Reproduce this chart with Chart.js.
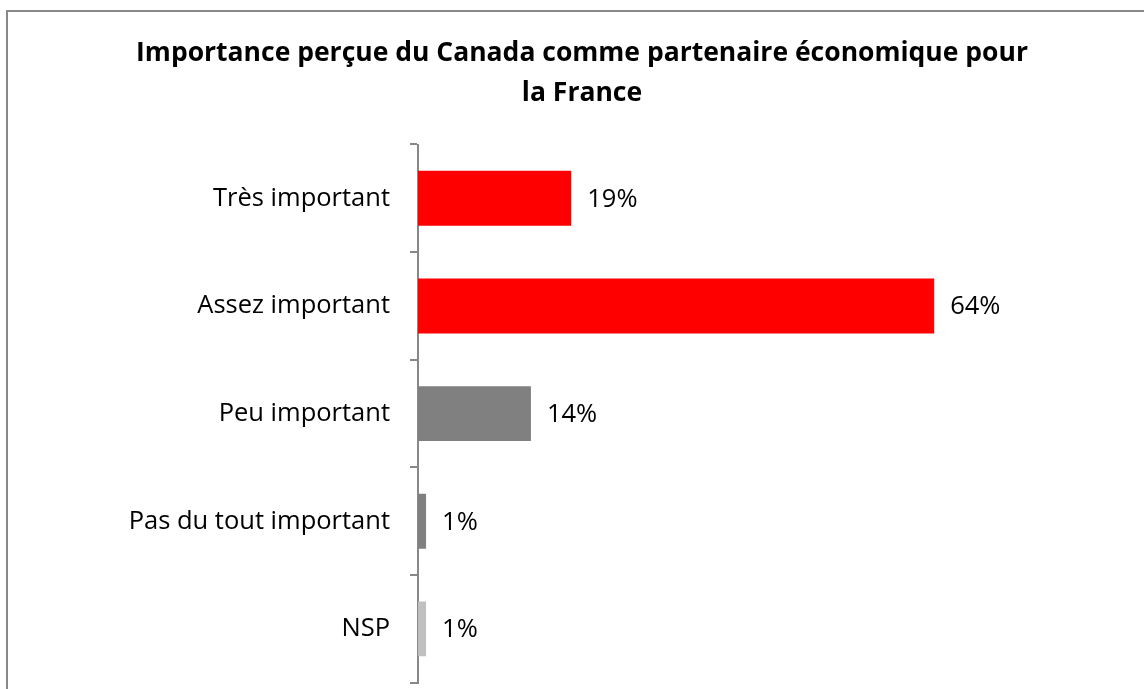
<!DOCTYPE html>
<html>
<head>
<meta charset="utf-8">
<script src="https://cdn.jsdelivr.net/npm/chart.js@4.4.0/dist/chart.umd.min.js"></script>
<style>
    html, body { margin: 0; padding: 0; background: #fff; overflow: hidden; }
    #frame {
        position: absolute;
        left: 6px;
        top: 10px;
        width: 1152px;
        height: 710px;
        border: 2px solid #888;
        box-sizing: border-box;
    }
</style>
</head>
<body>
<div id="frame"><canvas id="importanceChart"></canvas></div>
<script>
// Data
const categories = ['Très important', 'Assez important', 'Peu important', 'Pas du tout important', 'NSP'];
const values = [19, 64, 14, 1, 1];
const barColors = ['#FF0000', '#FF0000', '#808080', '#808080', '#C0C0C0'];
const titleLines = ['Importance perçue du Canada comme partenaire économique pour', 'la France'];

const FONT = "'Open Sans', 'Liberation Sans', sans-serif";

// Draw "xx%" right after each bar
const valueLabels = {
    id: 'valueLabels',
    afterDatasetsDraw(chart) {
        const ctx = chart.ctx;
        const meta = chart.getDatasetMeta(0);
        ctx.save();
        ctx.font = '25.5px ' + FONT;
        ctx.fillStyle = '#000';
        ctx.textAlign = 'left';
        ctx.textBaseline = 'middle';
        meta.data.forEach((bar, i) => {
            ctx.fillText(values[i] + '%', bar.x + 16, bar.y + 1);
        });
        ctx.restore();
    }
};

function initImportanceChart() {
    const ctx = document.getElementById('importanceChart').getContext('2d');
    new Chart(ctx, {
        type: 'bar',
        data: {
            labels: categories,
            datasets: [{
                data: values,
                backgroundColor: barColors,
                borderWidth: 0,
                barPercentage: 0.51,
                categoryPercentage: 1
            }]
        },
        options: {
            indexAxis: 'y',
            responsive: true,
            maintainAspectRatio: false,
            animation: false,
            layout: {
                padding: { left: 0, right: 0, top: 0, bottom: 10 }
            },
            plugins: {
                legend: { display: false },
                tooltip: { enabled: false },
                title: {
                    display: true,
                    text: titleLines,
                    color: '#000',
                    font: { family: FONT, size: 26.5, weight: 'bold', lineHeight: 1.5 },
                    padding: { top: 22, bottom: 31 }
                }
            },
            scales: {
                x: {
                    display: false,
                    min: 0,
                    max: 91.5
                },
                y: {
                    afterFit: function(scale) {
                        scale.width = 410;
                    },
                    grid: {
                        offset: true,
                        drawOnChartArea: false,
                        drawTicks: true,
                        tickLength: 8,
                        color: '#888',
                        lineWidth: 2
                    },
                    border: { color: '#888', width: 2 },
                    ticks: {
                        color: '#000',
                        padding: 20,
                        font: { family: FONT, size: 25.5 }
                    }
                }
            }
        },
        plugins: [valueLabels]
    });
}

document.addEventListener('DOMContentLoaded', () => {
    initImportanceChart();
});
</script>
</body>
</html>
